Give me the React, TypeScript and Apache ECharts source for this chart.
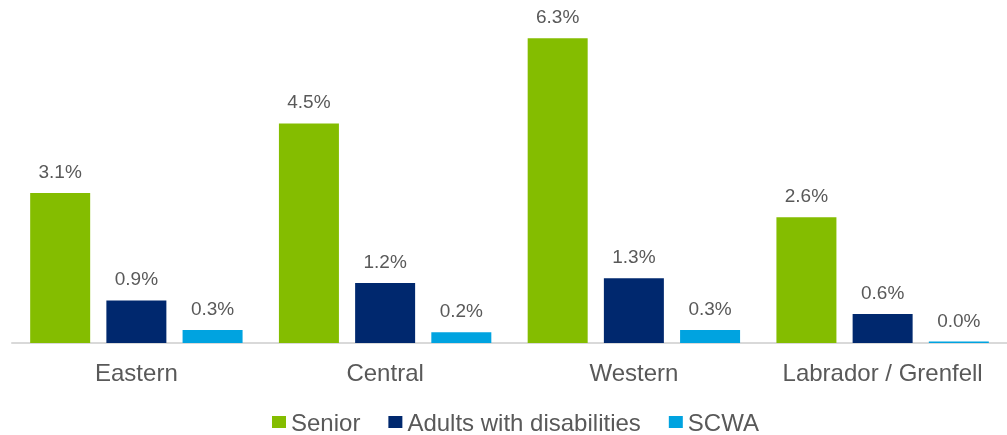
import React, { useEffect, useRef } from "react";
import * as echarts from "echarts";

const categories = ["Eastern", "Central", "Western", "Labrador / Grenfell"];
const seriesNames = ["Senior", "Adults with disabilities", "SCWA"];
const seniorValues = [3.1, 4.54, 6.3, 2.6];
const adultsValues = [0.88, 1.24, 1.34, 0.6];
const scwaValues = [0.27, 0.22, 0.27, 0.03];
const colors = ["#84BD00", "#00286E", "#00A3E0"];

const FONT = "'Liberation Sans', Arial, sans-serif";
const TEXT = "#595959";

export default function App() {
  const ref = useRef<HTMLDivElement>(null);
  useEffect(() => {
    if (!ref.current) return;
    const chart = echarts.init(ref.current, undefined, { renderer: "svg" });
    const values = [seniorValues, adultsValues, scwaValues];
    chart.setOption({
      animation: false,
      textStyle: { fontFamily: FONT },
      legend: {
        left: 272,
        top: 410,
        padding: 0,
        itemWidth: 14,
        itemHeight: 12,
        itemGap: 28,
        icon: "rect",
        data: seriesNames,
        textStyle: { fontSize: 24, color: TEXT, fontFamily: FONT },
      },
      grid: { left: 12, width: 999, top: 4.5, bottom: 92, containLabel: false },
      xAxis: {
        type: "category",
        data: categories,
        axisLine: { show: true, lineStyle: { color: "#D9D9D9", width: 2 } },
        axisTick: { show: false },
        axisLabel: { interval: 0, fontSize: 24, color: TEXT, margin: 17, fontFamily: FONT },
      },
      yAxis: {
        type: "value",
        min: 0,
        max: 7,
        show: false,
        splitLine: { show: false },
      },
      series: seriesNames.map((name, i) => ({
        name,
        type: "bar",
        data: values[i],
        barWidth: 60,
        barGap: "27%",
        itemStyle: { color: colors[i] },
        label: {
          show: true,
          position: "top",
          distance: 12,
          fontSize: 19,
          color: TEXT,
          fontFamily: FONT,
          formatter: (p: any) => Number(p.value).toFixed(1) + "%",
        },
      })),
    });
    return () => chart.dispose();
  }, []);
  return (
    <div
      ref={ref}
      style={{ position: "fixed", left: 0, top: 0, width: 1007, height: 435 }}
    />
  );
}
